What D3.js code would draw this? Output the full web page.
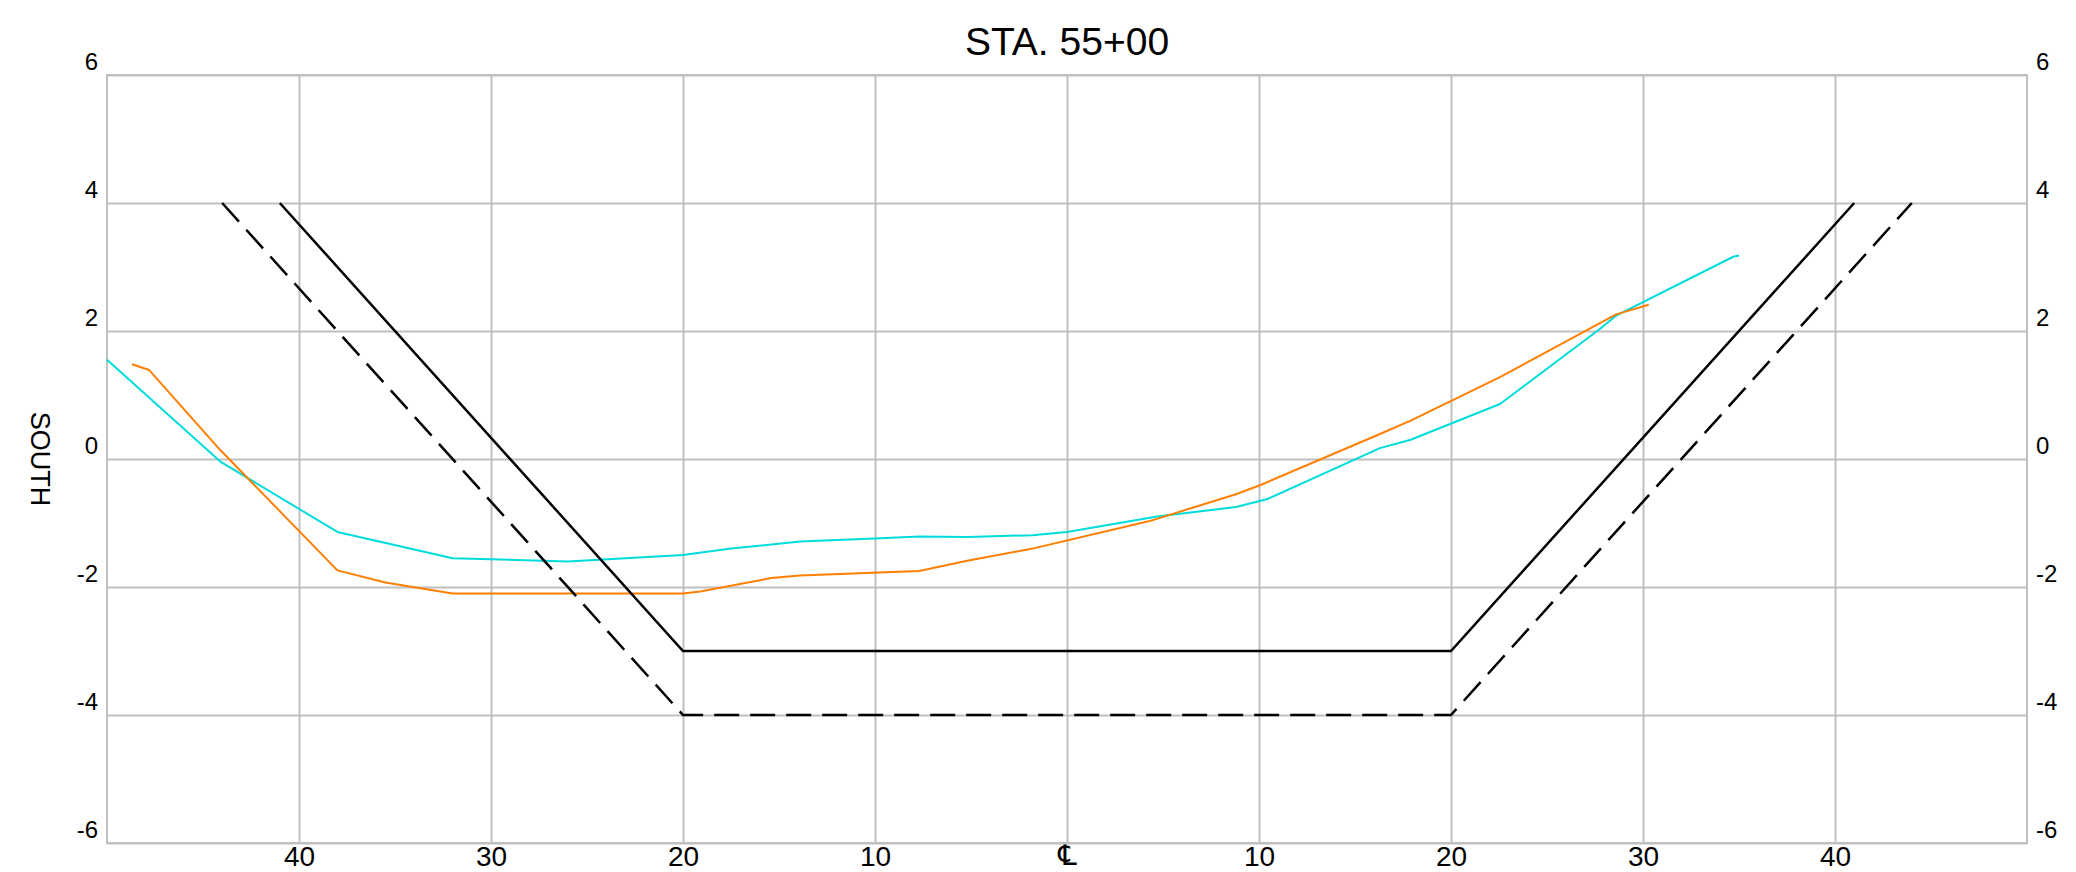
<!DOCTYPE html>
<html>
<head>
<meta charset="utf-8">
<script src="https://cdn.jsdelivr.net/npm/d3@7/dist/d3.min.js"></script>
<style>
  html, body { margin: 0; padding: 0; background: #ffffff; }
  svg { display: block; }
  text { font-family: "Liberation Sans", Arial, "DejaVu Sans", sans-serif; fill: #000; }
</style>
</head>
<body>
<svg id="chart" width="2076" height="872"></svg>
<script>
// ---- data ----
const title = "STA. 55+00";
const yLabel = "SOUTH";
const xTicks = [-40, -30, -20, -10, 0, 10, 20, 30, 40];
const xTickLabels = ["40", "30", "20", "10", "\u2104", "10", "20", "30", "40"];
const yTicks = [-6, -4, -2, 0, 2, 4, 6];
const yTickLabels = ["-6", "-4", "-2", "0", "2", "4", "6"];

// design section (solid black)
const designOffsets = [-41, -20, 20, 41];
const designElev = [4, -3, -3, 4];
// overdepth section (dashed black)
const overOffsets = [-44, -20, 20, 44];
const overElev = [4, -4, -4, 4];
// survey 1 (cyan)
const cyanOffsets = [-50, -44.1, -38.0, -32.0, -26.0, -20.0, -17.5, -13.9, -9.7, -7.7, -5.2, -1.8, 0, 4.7, 8.8, 10.4, 16.3, 17.9, 22.55, 27.7, 28.6, 34.7, 35.0];
const cyanElev = [1.55, -0.04, -1.14, -1.55, -1.60, -1.50, -1.40, -1.29, -1.24, -1.21, -1.22, -1.19, -1.14, -0.90, -0.75, -0.63, 0.17, 0.30, 0.86, 2.02, 2.24, 3.16, 3.18];
// survey 2 (orange)
const orangeOffsets = [-48.7, -47.8, -44.1, -38.0, -35.5, -32.0, -20.0, -19.1, -15.4, -13.9, -7.7, -5.2, -1.8, 4.3, 8.8, 10.05, 16.3, 17.9, 22.55, 28.6, 30.3];
const orangeElev = [1.48, 1.39, 0.14, -1.74, -1.93, -2.10, -2.10, -2.07, -1.86, -1.82, -1.75, -1.59, -1.40, -0.97, -0.55, -0.41, 0.39, 0.60, 1.28, 2.26, 2.41];

// ---- layout ----
const W = 2076, H = 872;
const margin = { left: 107, right: 49, top: 75, bottom: 29 };
const innerW = W - margin.left - margin.right;
const innerH = H - margin.top - margin.bottom;
const gridColor = "#c0c0c0";

const svg = d3.select("#chart");
svg.append("rect").attr("width", W).attr("height", H).attr("fill", "#fff");
const g = svg.append("g").attr("transform", `translate(${margin.left},${margin.top})`);

const x = d3.scaleLinear().domain([-50, 50]).range([0, innerW]);
const y = d3.scaleLinear().domain([-6, 6]).range([innerH, 0]);

// bottom axis with vertical grid
const xAxisG = g.append("g").attr("transform", `translate(0,${innerH})`)
  .call(d3.axisBottom(x).tickValues(xTicks).tickFormat((d, i) => xTickLabels[i]).tickSize(-innerH));
xAxisG.select(".domain").remove();
xAxisG.selectAll(".tick line").attr("stroke", gridColor).attr("stroke-width", 2);
xAxisG.selectAll(".tick text").attr("y", 23).attr("dy", null)
  .style("font-size", "28px").attr("fill", "#000");
xAxisG.selectAll(".tick text").filter(d => d === 0)
  .style("font-family", "'DejaVu Sans', sans-serif")
  .style("font-size", "29px").attr("y", 22);

// left axis with horizontal grid
const yAxisG = g.append("g")
  .call(d3.axisLeft(y).tickValues(yTicks).tickFormat((d, i) => yTickLabels[i]).tickSize(-innerW));
yAxisG.select(".domain").remove();
yAxisG.selectAll(".tick line").attr("stroke", gridColor).attr("stroke-width", 2);
yAxisG.selectAll(".tick text").attr("x", -9).attr("y", -5.5).attr("dy", null)
  .style("font-size", "24px").attr("fill", "#000");

// right axis labels
const yAxisR = g.append("g").attr("transform", `translate(${innerW},0)`)
  .call(d3.axisRight(y).tickValues(yTicks).tickFormat((d, i) => yTickLabels[i]).tickSize(0));
yAxisR.select(".domain").remove();
yAxisR.selectAll(".tick text").attr("x", 9).attr("y", -5.5).attr("dy", null)
  .style("font-size", "24px").attr("fill", "#000");

// border
g.append("rect").attr("x", 0).attr("y", 0).attr("width", innerW).attr("height", innerH)
  .attr("fill", "none").attr("stroke", gridColor).attr("stroke-width", 2);

const line = d3.line().x(d => x(d[0])).y(d => y(d[1]));
const zip = (a, b) => a.map((v, i) => [v, b[i]]);

g.append("path").datum(zip(cyanOffsets, cyanElev)).attr("d", line)
  .attr("fill", "none").attr("stroke", "#00dcdc").attr("stroke-width", 2).attr("stroke-linejoin", "round");
g.append("path").datum(zip(orangeOffsets, orangeElev)).attr("d", line)
  .attr("fill", "none").attr("stroke", "#ff7f00").attr("stroke-width", 2).attr("stroke-linejoin", "round");
g.append("path").datum(zip(overOffsets, overElev)).attr("d", line)
  .attr("fill", "none").attr("stroke", "#000").attr("stroke-width", 2.5).attr("stroke-dasharray", "25,11");
g.append("path").datum(zip(designOffsets, designElev)).attr("d", line)
  .attr("fill", "none").attr("stroke", "#000").attr("stroke-width", 2.5);

// title
svg.append("text").attr("x", margin.left + innerW / 2).attr("y", 55)
  .attr("text-anchor", "middle").style("font-size", "39px").text(title);

// y label
svg.append("text").attr("transform", `translate(40,${margin.top + y(0)}) rotate(90)`)
  .attr("text-anchor", "middle").attr("dominant-baseline", "central")
  .style("font-size", "27px").text(yLabel);
</script>
</body>
</html>
